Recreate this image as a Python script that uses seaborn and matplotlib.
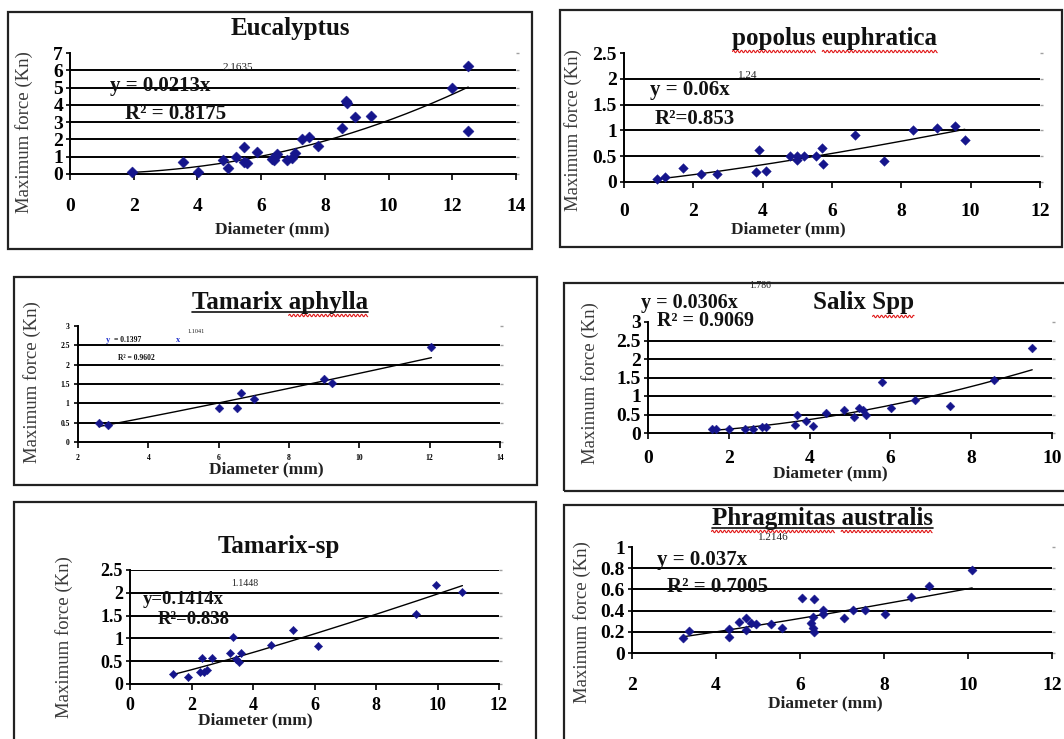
import numpy as np
import pandas as pd
import matplotlib
matplotlib.use("Agg")
import matplotlib.pyplot as plt
import seaborn as sns
from matplotlib.patches import Rectangle
from matplotlib.lines import Line2D

# ---------------- data ----------------
euc_diam = [1.96, 3.55, 4.03, 4.79, 4.95, 5.2, 5.47, 5.45, 5.57, 5.87, 6.33, 6.45, 6.5, 6.4,
            6.8, 6.98, 7.05, 7.28, 7.5, 7.78, 8.55, 8.65, 8.7, 8.96, 9.45, 11.98, 12.5, 12.5]
euc_force = [0.1, 0.68, 0.14, 0.82, 0.32, 0.97, 1.59, 0.72, 0.65, 1.25, 0.87, 0.97, 1.17, 0.8,
             0.82, 0.93, 1.2, 2.02, 2.14, 1.63, 2.66, 4.2, 4.1, 3.28, 3.38, 4.95, 6.25, 2.5]
euc_fit = [0.0213, 2.1635]
euc_xticks = [0, 2, 4, 6, 8, 10, 12, 14]
euc_yticks = [0, 1, 2, 3, 4, 5, 6, 7]

pop_diam = [0.95, 1.17, 1.7, 2.21, 2.69, 3.8, 3.9, 4.1, 4.78, 5.0, 5.0, 5.18, 5.53, 5.72, 5.74,
            6.65, 7.49, 8.34, 9.03, 9.54, 9.83]
pop_force = [0.05, 0.09, 0.28, 0.16, 0.16, 0.19, 0.62, 0.22, 0.51, 0.42, 0.5, 0.51, 0.5, 0.66, 0.35,
             0.92, 0.41, 1.01, 1.05, 1.09, 0.82]
pop_fit = [0.06, 1.24]
pop_xticks = [0, 2, 4, 6, 8, 10, 12]
pop_yticks = [0, 0.5, 1, 1.5, 2, 2.5]

tama_diam = [2.59, 2.86, 6.0, 6.52, 6.64, 7.0, 9.0, 9.22, 12.05]
tama_force = [0.49, 0.43, 0.89, 0.89, 1.26, 1.11, 1.62, 1.52, 2.45]
tama_fit = [0.1397, 1.1041]
tama_xticks = [2, 4, 6, 8, 10, 12, 14]
tama_yticks = [0, 0.5, 1, 1.5, 2, 2.5, 3]

sal_diam = [1.59, 1.69, 2.0, 2.41, 2.59, 2.82, 2.91, 3.63, 3.7, 3.92, 4.08, 4.41, 4.86, 5.1, 5.22,
            5.31, 5.39, 5.8, 6.02, 6.61, 7.47, 8.57, 9.51]
sal_force = [0.11, 0.11, 0.11, 0.11, 0.11, 0.16, 0.16, 0.21, 0.48, 0.32, 0.2, 0.54, 0.63, 0.43, 0.68,
             0.63, 0.48, 1.38, 0.68, 0.9, 0.72, 1.42, 2.3]
sal_fit = [0.0306, 1.786]
sal_xticks = [0, 2, 4, 6, 8, 10]
sal_yticks = [0, 0.5, 1, 1.5, 2, 2.5, 3]

tsp_diam = [1.41, 1.87, 2.28, 2.35, 2.4, 2.49, 2.68, 3.25, 3.34, 3.45, 3.54, 3.61, 4.6, 5.31, 6.12,
            9.3, 9.95, 10.81]
tsp_force = [0.23, 0.15, 0.27, 0.58, 0.27, 0.31, 0.56, 0.69, 1.04, 0.54, 0.49, 0.69, 0.85, 1.18, 0.83,
             1.53, 2.18, 2.02]
tsp_fit = [0.1414, 1.1448]
tsp_xticks = [0, 2, 4, 6, 8, 10, 12]
tsp_yticks = [0, 0.5, 1, 1.5, 2, 2.5]

phr_diam = [3.22, 3.36, 4.31, 4.31, 4.54, 4.71, 4.72, 4.83, 4.95, 5.31, 5.57, 6.05, 6.34, 6.3, 6.26,
            6.3, 6.34, 6.55, 6.55, 7.05, 7.25, 7.54, 8.02, 8.64, 9.07, 10.1]
phr_force = [0.14, 0.21, 0.15, 0.23, 0.29, 0.33, 0.22, 0.28, 0.27, 0.27, 0.24, 0.52, 0.51, 0.34, 0.28,
             0.24, 0.2, 0.41, 0.37, 0.33, 0.41, 0.41, 0.37, 0.53, 0.63, 0.78]
phr_fit = [0.037, 1.2146]
phr_xticks = [2, 4, 6, 8, 10, 12]
phr_yticks = [0, 0.2, 0.4, 0.6, 0.8, 1]

# ---------------- style ----------------
W, H = 1064, 739
NAVY = "#15158c"
BLUE = "#2233cc"
sns.set_theme(style="white")
plt.rcParams["font.family"] = ["Liberation Serif", "DejaVu Serif"]
plt.rcParams["axes.facecolor"] = "none"

fig = plt.figure(figsize=(W / 100, H / 100), dpi=100)
fig.patch.set_facecolor("white")


def fpt(px, py):
    return px / W, 1 - py / H


def ftext(px, py, s, **kw):
    x, y = fpt(px, py)
    kw.setdefault("va", "center")
    return fig.text(x, y, s, **kw)


def box(x0, y0, x1, y1):
    fig.add_artist(Rectangle(fpt(x0, y1), (x1 - x0) / W, (y1 - y0) / H,
                             transform=fig.transFigure, fill=False,
                             ec="#222222", lw=1.6, zorder=0))


def make_axes(x0, x1, yb, yt):
    return fig.add_axes([x0 / W, 1 - yb / H, (x1 - x0) / W, (yb - yt) / H])


def fmt(v):
    return f"{v:g}"


def panel(ax, diam, force, fit, xticks, yticks, tfs, ms, grid_top, xpad, ypad):
    df = pd.DataFrame({"Diameter": diam, "Force": force})
    a, b = fit
    xs = np.linspace(min(diam), max(diam), 200)
    fit_df = pd.DataFrame({"Diameter": xs, "Force": a * xs ** b})
    sns.lineplot(data=fit_df, x="Diameter", y="Force", ax=ax, color="black",
                 linewidth=1.0, estimator=None, sort=False, zorder=3)
    sns.scatterplot(data=df, x="Diameter", y="Force", ax=ax, marker="D", s=ms,
                    color=NAVY, edgecolor=NAVY, linewidth=0.3, zorder=4, clip_on=False)
    ax.set_xlim(xticks[0], xticks[-1])
    ax.set_ylim(yticks[0], yticks[-1])
    gl = yticks[1:] if grid_top else yticks[1:-1]
    ax.hlines(gl, xticks[0], xticks[-1], color="black", lw=1.4, zorder=2)
    ax.set_xticks(xticks)
    ax.set_xticklabels([fmt(v) for v in xticks], fontsize=tfs, fontweight="bold")
    ax.set_yticks(yticks)
    ax.set_yticklabels([fmt(v) for v in yticks], fontsize=tfs, fontweight="bold")
    ax.set_xlabel("")
    ax.set_ylabel("")
    for sp in ("top", "right"):
        ax.spines[sp].set_visible(False)
    for sp in ("left", "bottom"):
        ax.spines[sp].set_color("black")
        ax.spines[sp].set_linewidth(1.4)
    ax.tick_params(axis="x", direction="out", length=4, width=1.2, color="black",
                   pad=xpad, bottom=True, colors="black")
    ax.tick_params(axis="y", direction="out", length=3, width=1.2, color="black",
                   pad=ypad, left=True, right=False, colors="black")
    # faint dotted marks at the right end of every gridline (as in the scan)
    sec = ax.secondary_yaxis("right")
    sec.set_yticks(yticks)
    sec.set_yticklabels([])
    sec.spines["right"].set_visible(False)
    sec.tick_params(axis="y", direction="out", length=2, width=1.0, color="#a0a0a0", pad=0)


# ---------------- boxes ----------------
box(8, 12, 532, 249)
box(560, 10, 1062, 247)
box(14, 277, 537, 485)
box(564, 283, 1075, 491)
box(14, 502, 536, 760)
box(564, 505, 1075, 760)

# ---------------- panels ----------------
ax1 = make_axes(70, 516, 174, 53)
panel(ax1, euc_diam, euc_force, euc_fit, euc_xticks, euc_yticks, 14, 32, False, 13, 2)
ax2 = make_axes(624, 1040, 182, 53)
panel(ax2, pop_diam, pop_force, pop_fit, pop_xticks, pop_yticks, 14, 24, False, 11, 2)
ax3 = make_axes(78, 500, 442, 326)
panel(ax3, tama_diam, tama_force, tama_fit, tama_xticks, tama_yticks, 5.5, 20, False, 5, 3)
ax4 = make_axes(648, 1052, 433, 322)
panel(ax4, sal_diam, sal_force, sal_fit, sal_xticks, sal_yticks, 14, 20, False, 8, 2)
ax5 = make_axes(130, 499, 684, 570)
panel(ax5, tsp_diam, tsp_force, tsp_fit, tsp_xticks, tsp_yticks, 13, 18, True, 5, 2)
ax6 = make_axes(632, 1052, 653, 547)
panel(ax6, phr_diam, phr_force, phr_fit, phr_xticks, phr_yticks, 14, 22, False, 13, 2)

# ---------------- titles ----------------
TB = dict(fontweight="bold", ha="center", fontsize=18, color="#111111")
t1 = ftext(290, 28, "Eucalyptus", **TB)
t2 = ftext(835, 38, "popolus euphratica", **TB)
t3 = ftext(280, 302, "Tamarix aphylla", **TB)
t4 = ftext(864, 303, "Salix Spp", **TB)
t5 = ftext(279, 547, "Tamarix-sp", **TB)
t6 = ftext(822, 518, "Phragmitas australis", **TB)

# ---------------- axis labels ----------------
YL = dict(rotation=90, ha="center", fontsize=13.5, color="#3a3a3a")
ftext(24, 132, "Maximum force (Kn)", **YL)
ftext(573, 130, "Maximum force (Kn)", **YL)
ftext(32, 382, "Maximum force (Kn)", **YL)
ftext(590, 383, "Maximum force (Kn)", **YL)
ftext(64, 637, "Maximum force (Kn)", **YL)
ftext(582, 622, "Maximum force (Kn)", **YL)

XL = dict(ha="center", fontsize=12.5, fontweight="bold", color="#222222")
ftext(272, 229, "Diameter (mm)", **XL)
ftext(788, 229, "Diameter (mm)", **XL)
ftext(266, 469, "Diameter (mm)", **XL)
ftext(830, 473, "Diameter (mm)", **XL)
ftext(255, 720, "Diameter (mm)", **XL)
ftext(825, 703, "Diameter (mm)", **XL)

# ---------------- trend-line equations ----------------
EQ = dict(fontweight="bold", ha="left", color="#111111")
SUP = dict(ha="center", color="#222222")
# Eucalyptus
ftext(238, 67, "2.1635", fontsize=8, **SUP)
ftext(110, 86, "y = 0.0213x", fontsize=15, **EQ)
ftext(125, 114, "R² = 0.8175", fontsize=15, **EQ)
# popolus
ftext(748, 76, "1.24", fontsize=8, **SUP)
ftext(650, 90, "y = 0.06x", fontsize=15, **EQ)
ftext(655, 119, "R²=0.853", fontsize=15, **EQ)
# Tamarix aphylla
ftext(106, 340, "y", fontsize=6, fontweight="bold", ha="left", color=BLUE)
ftext(114, 340, "= 0.1397", fontsize=5.5, **EQ)
ftext(176, 340, "x", fontsize=6, fontweight="bold", ha="left", color=BLUE)
ftext(196, 332, "1.1041", fontsize=4.5, **SUP)
ftext(118, 358, "R² = 0.9602", fontsize=5.5, **EQ)
# Salix
ftext(760, 286, "1.786", fontsize=7, **SUP)
ftext(641, 303, "y = 0.0306x", fontsize=14.5, **EQ)
ftext(657, 321, "R² = 0.9069", fontsize=14.5, **EQ)
# Tamarix-sp
ftext(245, 584, "1.1448", fontsize=7, **SUP)
ftext(143, 600, "y=0.1414x", fontsize=13.5, **EQ)
ftext(158, 619, "R²=0.838", fontsize=13.5, **EQ)
# Phragmitas
ftext(773, 537, "1.2146", fontsize=8, **SUP)
ftext(657, 560, "y = 0.037x", fontsize=15, **EQ)
ftext(667, 587, "R² = 0.7005", fontsize=15, **EQ)

# ---------------- underlines / spell-check squiggles ----------------
fig.canvas.draw()
rend = fig.canvas.get_renderer()


def word_span(t, word):
    s = t.get_text()
    bb = t.get_window_extent(rend)
    i = s.index(word)
    prop = t.get_fontproperties()
    pw = rend.get_text_width_height_descent(s[:i], prop, ismath=False)[0] if i > 0 else 0
    ww = rend.get_text_width_height_descent(word, prop, ismath=False)[0]
    return bb.x0 + pw, bb.x0 + pw + ww, bb.y0


def squiggle(t, word):
    x0, x1, yb = word_span(t, word)
    xs = np.arange(x0, x1, 0.5)
    ys = yb - 2.0 + 1.2 * np.sin((xs - x0) * 2 * np.pi / 4.0)
    fig.add_artist(Line2D(xs / W, ys / H, transform=fig.transFigure, color="#e01818", lw=0.8))


def underline(t):
    bb = t.get_window_extent(rend)
    y = bb.y0 + 1.5
    fig.add_artist(Line2D([bb.x0 / W, bb.x1 / W], [y / H, y / H],
                          transform=fig.transFigure, color="#111111", lw=1.2))


underline(t3)
underline(t6)
for t, words in ((t2, ["popolus", "euphratica"]), (t3, ["aphylla"]),
                 (t4, ["Spp"]), (t6, ["Phragmitas", "australis"])):
    for w in words:
        squiggle(t, w)

fig.savefig("out.png", dpi=100, facecolor="white")
